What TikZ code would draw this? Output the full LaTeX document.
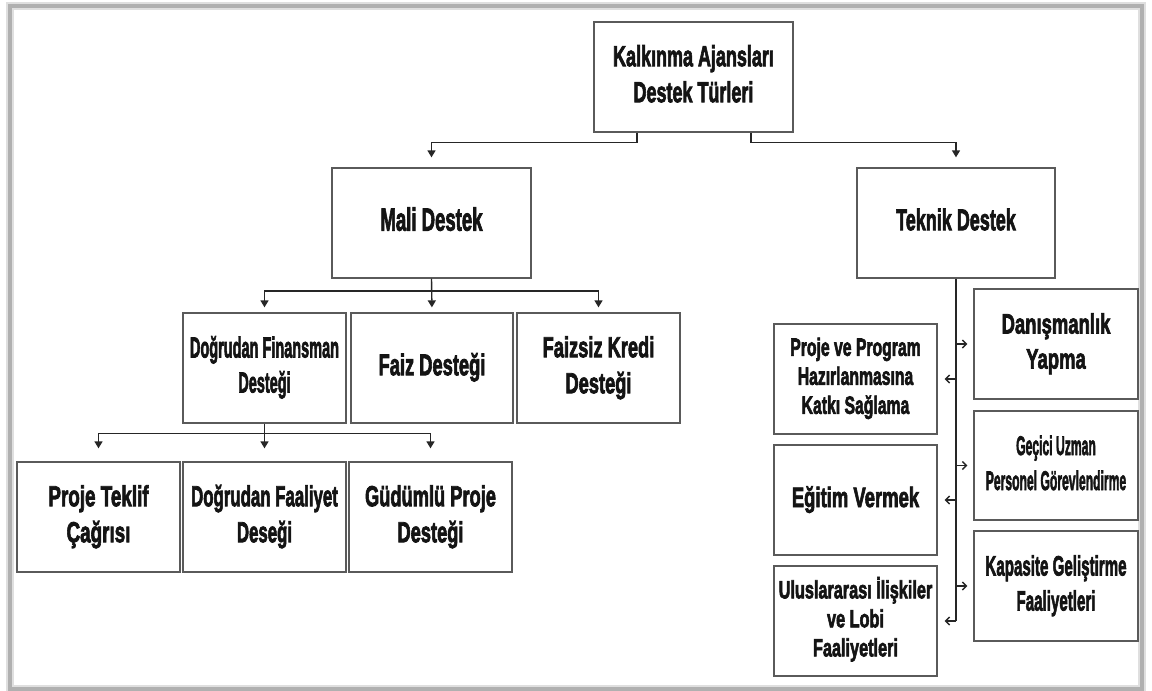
\documentclass[tikz,border=0pt]{standalone}
\usepackage{fontspec}
\usepackage{graphicx}
\setmainfont{Liberation Sans}
\newfontfamily\hv{Liberation Sans}[UprightFont=* Bold, FakeBold=3]
\usetikzlibrary{arrows.meta,calc}
\definecolor{boxline}{HTML}{5A5A5A}
\definecolor{conn}{HTML}{262626}
\definecolor{txt}{HTML}{141414}
\newcommand\sq[4]{\scalebox{#1}[1]{\fontsize{#2}{#3}\hv\selectfont\begin{tabular}{@{}c@{}}#4\end{tabular}}}
\tikzset{
  bx/.style={draw=boxline, line width=1.3pt, inner sep=0pt, align=center, text=txt},
  big/.style={bx, minimum width=199pt, minimum height=110pt},
  mid/.style={bx, minimum width=163pt, minimum height=110pt},
  con/.style={draw=conn, line width=1.4pt},
  tri/.style={con, -{Triangle[length=7pt,width=8pt]}},
  barb/.style={con, -{Straight Barb[length=4pt,width=8pt]}}
}
\begin{document}
\begin{tikzpicture}[x=1pt,y=-1pt]
\useasboundingbox (0,0) rectangle (1152,691);
\fill[white] (0,0) rectangle (1152,691);
% frame
\draw[gray!25, line width=8pt] (10,6) rectangle (1142,689);
\draw[gray!62, line width=4.5pt] (10,6) rectangle (1142,689);

% nodes
\node[big] (top) at (693.5,77) {\sq{0.62}{29}{36}{Kalkınma Ajansları\\Destek Türleri}};
\node[big] (mali) at (431.5,223) {\sq{0.58}{32}{38}{Mali Destek}};
\node[big, minimum width=198pt] (tek) at (956,223) {\sq{0.60}{30}{36}{Teknik Destek}};

\node[mid] (dfd) at (264.5,368) {\sq{0.50}{29}{35}{Doğrudan Finansman\\Desteği}};
\node[mid, minimum width=162pt] (faiz) at (432,368) {\sq{0.61}{30}{36}{Faiz Desteği}};
\node[mid] (fkd) at (598.5,368) {\sq{0.63}{29}{36}{Faizsiz Kredi\\Desteği}};

\node[mid] (ptc) at (98.5,517) {\sq{0.65}{29}{36}{Proje Teklif\\Çağrısı}};
\node[mid] (dfa) at (264.5,517) {\sq{0.58}{29}{36}{Doğrudan Faaliyet\\Deseği}};
\node[mid] (gud) at (430.5,517) {\sq{0.63}{29}{36}{Güdümlü Proje\\Desteği}};

\node[mid, minimum width=164pt] (dan) at (1056,344) {\sq{0.66}{28}{35}{Danışmanlık\\Yapma}};
\node[mid, minimum width=164pt, minimum height=109pt] (gec) at (1056,465.5) {\sq{0.45}{27}{35}{Geçici Uzman\\Personel Görevlendirme}};
\node[mid, minimum width=164pt] (kap) at (1056,586) {\sq{0.54}{28}{35}{Kapasite Geliştirme\\Faaliyetleri}};

\node[mid] (ppr) at (855.5,379) {\sq{0.63}{25}{29}{Proje ve Program\\Hazırlanmasına\\Katkı Sağlama}};
\node[mid] (egt) at (855.5,500) {\sq{0.66}{28}{35}{Eğitim Vermek}};
\node[mid] (ulu) at (855.5,621) {\sq{0.65}{25}{29}{Uluslararası İlişkiler\\ve Lobi\\Faaliyetleri}};

% top connectors
\coordinate (tl) at ($(top.south)+(-56.5,0)$);
\coordinate (tr) at ($(top.south)+(57.5,0)$);
\draw[tri, shorten >=10pt] (tl) -- ++(0,10) -| (mali.north);
\draw[tri, shorten >=10pt] (tr) -- ++(0,10) -| (tek.north);

% mali connectors
\coordinate (mj) at ($(mali.south)+(0,12.5)$);
\draw[tri, shorten >=5pt] (mali.south) -- (faiz.north);
\draw[tri, shorten >=5pt] (mj) -| (dfd.north);
\draw[tri, shorten >=5pt] (mj) -| (fkd.north);

% dfd connectors
\coordinate (dj) at ($(dfd.south)+(0,10)$);
\draw[tri, shorten >=13pt] (dfd.south) -- (dfa.north);
\draw[tri, shorten >=13pt] (dj) -| (ptc.north);
\draw[tri, shorten >=13pt] (dj) -| (gud.north);

% teknik trunk
\draw[con] (tek.south) -- (tek.south |- ulu.east);
\draw[barb, shorten >=6pt] (tek.south |- dan.west) -- (dan.west);
\draw[barb, shorten >=6pt] (tek.south |- gec.west) -- (gec.west);
\draw[barb, shorten >=6pt] (tek.south |- kap.west) -- (kap.west);
\draw[barb, shorten >=7pt] (tek.south |- ppr.east) -- (ppr.east);
\draw[barb, shorten >=7pt] (tek.south |- egt.east) -- (egt.east);
\draw[barb, shorten >=7pt] (tek.south |- ulu.east) -- (ulu.east);
\end{tikzpicture}
\end{document}
